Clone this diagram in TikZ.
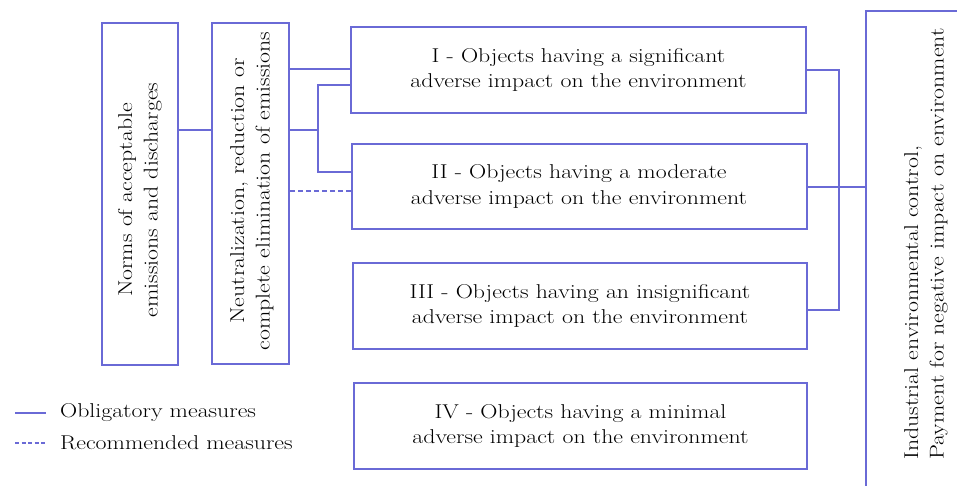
\documentclass[tikz,border=0pt]{standalone}
\usepackage{fontspec}
\setmainfont{Latin Modern Roman}[FakeStretch=1.19]
\definecolor{lc}{RGB}{106,106,214}
\begin{document}
\begin{tikzpicture}[x=1pt,y=-1pt,
  box/.style={draw=lc, line width=2pt, inner sep=0pt, font=\fontsize{20}{25.5}\selectfont, align=center},
  conn/.style={draw=lc, line width=2pt},
  rec/.style={draw=lc, line width=2pt, dash pattern=on 5pt off 3pt},
  lab/.style={font=\fontsize{20}{25.5}\selectfont, inner sep=0pt}]
\useasboundingbox (0,0) rectangle (957,485);
\clip (0,0) rectangle (957,485);
% left boxes
\node[box, minimum width=76pt, minimum height=342pt] (A) at (140,194) {};
\node[lab, rotate=90, align=center] (Atext) at (140,200) {Norms of acceptable\\emissions and discharges};
\node[box, minimum width=77pt, minimum height=341pt] (B) at (250.5,193.5) {};
\node[lab, rotate=90, align=center] (Btext) at (252,191) {Neutralization, reduction or\\complete elimination of emissions};
% category boxes
\node[box, minimum width=455pt, minimum height=86pt] (I) at (578.5,70) {I - Objects having a significant\\adverse impact on the environment};
\node[box, minimum width=455pt, minimum height=85pt] (II) at (579,186.5) {II - Objects having a moderate\\adverse impact on the environment};
\node[box, minimum width=454pt, minimum height=86pt] (III) at (580,306) {III - Objects having an insignificant\\adverse impact on the environment};
\node[box, minimum width=453pt, minimum height=86pt] (IV) at (580.5,426) {IV - Objects having a minimal\\adverse impact on the environment};
% right box
\node[box, minimum width=120pt, minimum height=500pt] (R) at (926,261) {};
\node[lab, rotate=90, align=left] (Rtext) at (926,244) {Industrial environmental control,\\Payment for negative impact on environment};
% connectors left
\coordinate (j1) at (318,130);
\draw[conn] (A.east |- 0,130) -- (B.west |- 0,130);
\draw[conn] (B.east |- 0,69) -- (I.west |- 0,69);
\draw[conn] (B.east |- 0,130) -- (j1);
\draw[conn] (I.west |- 0,85) -| (j1) |- (II.west |- 0,172);
\draw[rec] (B.east |- 0,191) -- (II.west |- 0,191);
% connectors right
\coordinate (j2) at (839,70);
\draw[conn] (I.east |- 0,70) -- (j2) |- (III.east |- 0,310);
\draw[conn] (II.east |- 0,187) -- (R.west |- 0,187);
% legend
\coordinate (l1a) at (15,413);
\coordinate (l1b) at (46,413);
\coordinate (l2a) at (15,443);
\coordinate (l2b) at (46,443);
\draw[conn, line width=1.6pt] (l1a) -- (l1b);
\draw[rec, line width=1.6pt, dash pattern=on 4pt off 2.5pt] (l2a) -- (l2b);
\node[lab, anchor=west] (lt1) at (60,413) {Obligatory measures};
\node[lab, anchor=west] (lt2) at (60,443) {Recommended measures};
\end{tikzpicture}
\end{document}
